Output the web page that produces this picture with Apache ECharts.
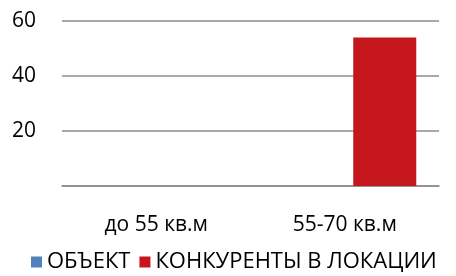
<!DOCTYPE html>
<html>
<head>
<meta charset="utf-8">
<script src="https://cdn.jsdelivr.net/npm/echarts@6/dist/echarts.min.js"></script>
<style>
  html, body { margin: 0; padding: 0; background: #fff; }
  #chart { width: 456px; height: 276px; }
</style>
</head>
<body>
<div id="chart"></div>
<script>
const categories = ["до 55 кв.м", "55-70 кв.м"];
const objectValues = [null, null];
const competitorValues = [null, 54];
const seriesNames = ["ОБЪЕКТ", "КОНКУРЕНТЫ В ЛОКАЦИИ"];

const font = "'Open Sans', 'Noto Sans', sans-serif";
const chart = echarts.init(document.getElementById("chart"));

chart.setOption({
  animation: false,
  grid: { left: 62, right: 17, top: 21, bottom: 90 },
  legend: {
    bottom: -2,
    left: 26,
    itemWidth: 11,
    itemHeight: 11,
    itemGap: 9,
    icon: "rect",
    textStyle: { fontFamily: font, fontSize: 22, color: "#000" },
    data: seriesNames
  },
  xAxis: {
    type: "category",
    data: categories,
    axisLine: { lineStyle: { color: "#8c8c8c", width: 1.5 } },
    axisTick: { show: false },
    axisLabel: { fontFamily: font, fontSize: 21, color: "#000", margin: 29 }
  },
  yAxis: {
    type: "value",
    min: 0,
    max: 60,
    interval: 20,
    axisLine: { show: false },
    axisTick: { show: false },
    splitLine: { lineStyle: { color: "#8c8c8c", width: 1.5 } },
    axisLabel: {
      fontFamily: font, fontSize: 21, color: "#000", margin: 50, align: "left",
      formatter: v => (v === 0 ? "" : v)
    }
  },
  series: [
    {
      name: seriesNames[0],
      type: "bar",
      data: objectValues,
      barWidth: 63,
      barGap: "27%",
      itemStyle: { color: "#4f81bd" }
    },
    {
      name: seriesNames[1],
      type: "bar",
      data: competitorValues,
      barWidth: 63,
      barGap: "27%",
      itemStyle: { color: "#c4161c" }
    }
  ]
});
</script>
</body>
</html>
